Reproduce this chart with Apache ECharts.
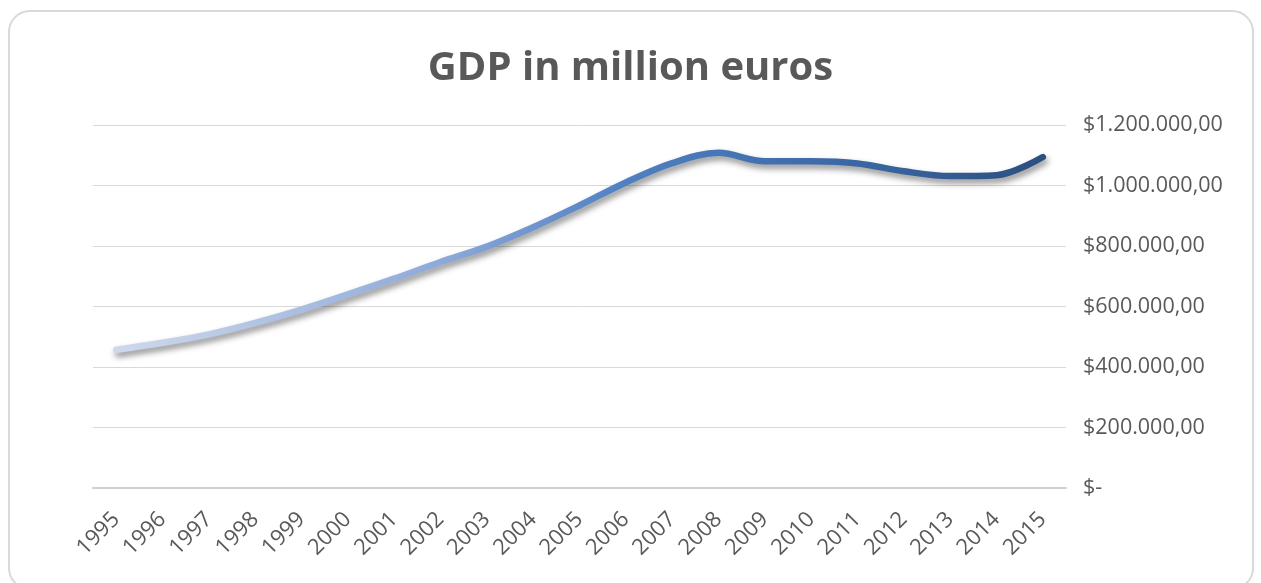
<!DOCTYPE html>
<html>
<head>
<meta charset="utf-8">
<title>GDP in million euros</title>
<script src="https://cdn.jsdelivr.net/npm/echarts@6/dist/echarts.min.js"></script>
<style>
    html, body { margin: 0; padding: 0; background: #fff; }
    .box {
        position: absolute; left: 8px; top: 10px; width: 1246px; height: 580px;
        border: 2px solid #d9d9d9; border-radius: 22px; box-sizing: border-box;
    }
    #chart { position: absolute; left: 0; top: 0; width: 1261px; height: 583px; }
</style>
</head>
<body>
<div class="box"></div>
<div id="chart"></div>
<script>
// 数据
const years = ["1995", "1996", "1997", "1998", "1999", "2000", "2001", "2002", "2003", "2004",
    "2005", "2006", "2007", "2008", "2009", "2010", "2011", "2012", "2013", "2014", "2015"];
const gdp = [457000, 480000, 508000, 546000, 590000, 640000, 692000, 747000, 798000, 862000,
    934000, 1010000, 1074000, 1108000, 1080000, 1080000, 1073000, 1047000, 1031000, 1034000, 1094000];
const yTicks = [0, 200000, 400000, 600000, 800000, 1000000, 1200000];

(function () {
    let myChart = echarts.init(document.getElementById("chart"))
    // $1.200.000,00 格式
    function money(v) {
        if (v === 0) return "$-"
        return "$" + String(v).replace(/\B(?=(\d{3})+(?!\d))/g, ".") + ",00"
    }
    let option = {
        title: {
            text: "GDP in million euros",
            left: "center",
            top: 44,
            textStyle: {
                color: "#595959",
                fontSize: 40,
                fontWeight: "bold",
                fontFamily: "Open Sans"
            }
        },
        grid: {
            left: 93,
            right: 195,
            top: 125,
            bottom: 95,
            containLabel: false
        },
        xAxis: {
            type: "category",
            data: years,
            boundaryGap: true,
            axisTick: { show: false },
            axisLine: { lineStyle: { color: "#d0d0d0", width: 2 } },
            axisLabel: {
                rotate: 45,
                margin: 28,
                color: "#595959",
                fontSize: 22,
                fontFamily: "Open Sans",
                interval: 0
            }
        },
        yAxis: {
            type: "value",
            position: "right",
            min: yTicks[0],
            max: yTicks[yTicks.length - 1],
            interval: 200000,
            axisLine: { show: false },
            axisTick: { show: false },
            axisLabel: {
                margin: 17,
                color: "#595959",
                fontSize: 21.5,
                fontFamily: "Open Sans",
                formatter: money
            },
            splitLine: { lineStyle: { color: "#d9d9d9", width: 1 } }
        },
        series: [
            {
                name: "GDP",
                type: "line",
                data: gdp,
                smooth: 0.35,
                showSymbol: false,
                lineStyle: {
                    width: 6.5,
                    cap: "round",
                    color: new echarts.graphic.LinearGradient(0, 0, 1, 0, [
                        { offset: 0, color: "#cfd9ec" },
                        { offset: 0.35, color: "#8eaad9" },
                        { offset: 0.55, color: "#4f80c2" },
                        { offset: 0.8, color: "#3a67a3" },
                        { offset: 1, color: "#2c4f7f" }
                    ]),
                    shadowColor: "rgba(0,0,0,0.45)",
                    shadowBlur: 6,
                    shadowOffsetX: 2,
                    shadowOffsetY: 4
                }
            }
        ]
    }
    myChart.setOption(option)
    window.addEventListener("resize", function () {
        myChart.resize()
    })
})();
</script>
</body>
</html>
